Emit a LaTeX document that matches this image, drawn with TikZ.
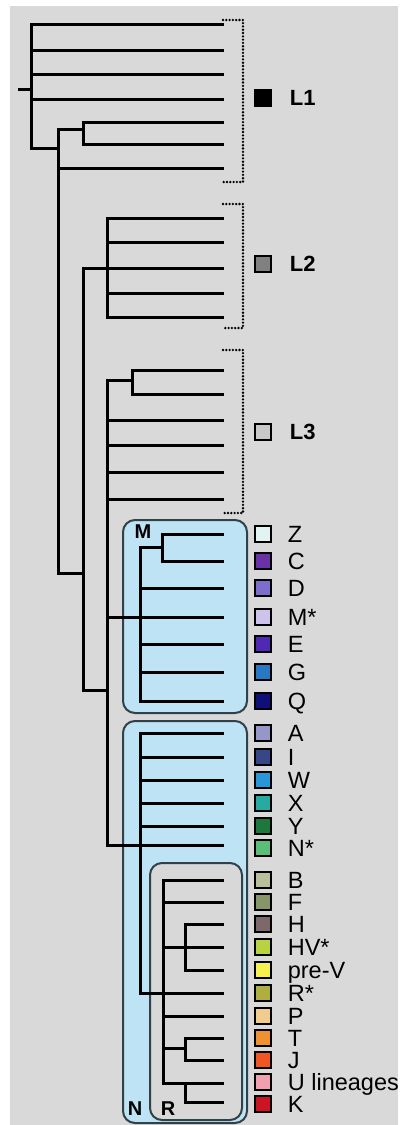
\documentclass[tikz,border=0pt]{standalone}
\usepackage{fontspec}
\setmainfont{Liberation Sans}
\usetikzlibrary{positioning}
\definecolor{hgbg}{RGB}{217,217,217}
\definecolor{hgblue}{RGB}{190,227,244}
\definecolor{hgrbox}{RGB}{216,216,216}
\definecolor{hgedge}{RGB}{50,64,72}
\definecolor{hgL2}{RGB}{128,128,128}
\definecolor{hgL3}{RGB}{200,200,200}
\definecolor{hgZ}{RGB}{226,244,242}
\definecolor{hgC}{RGB}{105,50,165}
\definecolor{hgD}{RGB}{125,110,205}
\definecolor{hgMs}{RGB}{205,195,235}
\definecolor{hgE}{RGB}{80,40,180}
\definecolor{hgG}{RGB}{40,120,195}
\definecolor{hgQ}{RGB}{15,15,120}
\definecolor{hgA}{RGB}{150,150,200}
\definecolor{hgI}{RGB}{55,70,135}
\definecolor{hgW}{RGB}{40,150,215}
\definecolor{hgX}{RGB}{40,170,160}
\definecolor{hgY}{RGB}{30,120,60}
\definecolor{hgNs}{RGB}{90,190,120}
\definecolor{hgB}{RGB}{185,190,155}
\definecolor{hgF}{RGB}{135,150,105}
\definecolor{hgH}{RGB}{125,105,105}
\definecolor{hgHV}{RGB}{185,210,65}
\definecolor{hgpreV}{RGB}{245,240,80}
\definecolor{hgRs}{RGB}{175,175,65}
\definecolor{hgP}{RGB}{240,205,140}
\definecolor{hgT}{RGB}{240,145,50}
\definecolor{hgJ}{RGB}{240,85,35}
\definecolor{hgU}{RGB}{240,160,175}
\definecolor{hgK}{RGB}{205,20,35}
\tikzset{
  hgtree/.style={line width=3pt, draw=black},
  hgdots/.style={line width=2.6pt, draw=black, line cap=round, dash pattern=on 0pt off 3.3pt},
  hgclade/.style={draw=hgedge, line width=2pt, rounded corners=12pt, inner sep=0pt},
  hgcladelbl/.style={font=\fontsize{20}{20}\selectfont\bfseries, inner sep=0pt},
  hgsq/.style={draw=black, line width=1.8pt, minimum size=15.5pt, inner sep=0pt},
  hglbl/.style={font=\fontsize{23.5}{23.5}\selectfont, inner sep=0pt, text height=16.8pt, text depth=0pt},
  hgLlbl/.style={font=\fontsize{22}{22}\selectfont\bfseries, inner sep=0pt, text height=15.8pt, text depth=0pt},
}
\begin{document}
\begin{tikzpicture}[x=1pt, y=-1pt]
  \useasboundingbox (0,0) rectangle (403,1125);
  \fill[hgbg] (10,6) rectangle (398,1125);

  % clade boxes
  \node[hgclade, fill=hgblue, minimum width=124pt, minimum height=193pt] (boxM) at (185,616.5) {};
  \node[hgclade, fill=hgblue, minimum width=124pt, minimum height=402pt] (boxN) at (185,922) {};
  \node[hgclade, fill=hgrbox, minimum width=92pt, minimum height=257pt] (boxR) at (196,991.5) {};
  \node[hgcladelbl] (lblM) at (143,532) {M};
  \node[hgcladelbl] (lblN) at (135,1108.5) {N};
  \node[hgcladelbl] (lblR) at (168,1108.5) {R};

  % inner nodes
  \coordinate (stem) at (18,89);
  \coordinate (root) at (31,89);
  \coordinate (n1) at (58,148);
  \coordinate (c56) at (83,129);
  \coordinate (n2) at (83,573);
  \coordinate (nL2) at (107,268);
  \coordinate (n3) at (107,690);
  \coordinate (nL3) at (132,380);
  \coordinate (nM) at (140,617);
  \coordinate (nZC) at (162,547);
  \coordinate (nN) at (140,845);
  \coordinate (nR) at (163,993);
  \coordinate (nH) at (185,947);
  \coordinate (nTJ) at (185,1048);
  \coordinate (nUK) at (185,1083);

  % leaves
  \coordinate (l1a) at (224,24);
  \coordinate (l1b) at (224,50);
  \coordinate (l1c) at (224,74);
  \coordinate (l1d) at (224,99);
  \coordinate (l1e) at (224,122);
  \coordinate (l1f) at (224,144);
  \coordinate (l1g) at (224,168);
  \coordinate (l2a) at (224,218);
  \coordinate (l2b) at (224,242);
  \coordinate (l2c) at (224,268);
  \coordinate (l2d) at (224,293);
  \coordinate (l2e) at (224,317);
  \coordinate (l3a) at (224,370);
  \coordinate (l3b) at (224,394);
  \coordinate (l3c) at (224,420);
  \coordinate (l3d) at (224,445);
  \coordinate (l3e) at (224,472);
  \coordinate (l3f) at (224,499);
  \coordinate (lZ) at (224,534);
  \coordinate (lC) at (224,561);
  \coordinate (lD) at (224,588);
  \coordinate (lMs) at (224,617);
  \coordinate (lE) at (224,644);
  \coordinate (lG) at (224,672);
  \coordinate (lQ) at (224,701);
  \coordinate (lA) at (224,733);
  \coordinate (lI) at (224,757);
  \coordinate (lW) at (224,780);
  \coordinate (lX) at (224,803);
  \coordinate (lY) at (224,826);
  \coordinate (lNs) at (224,845);
  \coordinate (lB) at (224,880);
  \coordinate (lF) at (224,902);
  \coordinate (lH) at (224,924);
  \coordinate (lHV) at (224,947);
  \coordinate (lpreV) at (224,970);
  \coordinate (lRs) at (224,993);
  \coordinate (lP) at (224,1016);
  \coordinate (lT) at (224,1038);
  \coordinate (lJ) at (224,1060);
  \coordinate (lU) at (224,1083);
  \coordinate (lK) at (224,1102);

  % branches
  \draw[hgtree] (stem) -- (root);
  \draw[hgtree] (l1a) -| (root) (l1b) -| (root) (l1c) -| (root) (l1d) -| (root) (n1) -| (root);
  \draw[hgtree] (c56) -| (n1) (l1g) -| (n1) (n2) -| (n1);
  \draw[hgtree] (l1e) -| (c56) (l1f) -| (c56);
  \draw[hgtree] (nL2) -| (n2) (n3) -| (n2);
  \draw[hgtree] (l2a) -| (nL2) (l2b) -| (nL2) (l2c) -| (nL2) (l2d) -| (nL2) (l2e) -| (nL2);
  \draw[hgtree] (nL3) -| (n3) (l3c) -| (n3) (l3d) -| (n3) (l3e) -| (n3) (l3f) -| (n3)
    (nM) -| (n3) (nN) -| (n3);
  \draw[hgtree] (l3a) -| (nL3) (l3b) -| (nL3);
  \draw[hgtree] (nZC) -| (nM) (lD) -| (nM) (lMs) -| (nM) (lE) -| (nM) (lG) -| (nM) (lQ) -| (nM);
  \draw[hgtree] (lZ) -| (nZC) (lC) -| (nZC);
  \draw[hgtree] (lA) -| (nN) (lI) -| (nN) (lW) -| (nN) (lX) -| (nN) (lY) -| (nN) (lNs) -| (nN)
    (nR) -| (nN);
  \draw[hgtree] (lB) -| (nR) (lF) -| (nR) (nH) -| (nR) (lRs) -| (nR) (lP) -| (nR)
    (nTJ) -| (nR) (nUK) -| (nR);
  \draw[hgtree] (lH) -| (nH) (lHV) -| (nH) (lpreV) -| (nH);
  \draw[hgtree] (lT) -| (nTJ) (lJ) -| (nTJ);
  \draw[hgtree] (lU) -| (nUK) (lK) -| (nUK);

  % L brackets
  \draw[hgdots] (223,20) -- (243,20) -- (243,182) -- (223,182);
  \draw[hgdots] (223,204) -- (243,204) -- (243,328) -- (223,328);
  \draw[hgdots] (223,350) -- (243,350) -- (243,513) -- (223,513);
  \node[hgsq, fill=black] (sqL1) at (263,98) {};
  \node[hgLlbl, right=18pt of sqL1] (txL1) {L1};
  \node[hgsq, fill=hgL2] (sqL2) at (263,264) {};
  \node[hgLlbl, right=18pt of sqL2] (txL2) {L2};
  \node[hgsq, fill=hgL3] (sqL3) at (263,432) {};
  \node[hgLlbl, right=18pt of sqL3] (txL3) {L3};

  % haplogroup legend
  \node[hgsq, fill=hgZ] (sqZ) at ([xshift=39pt]lZ) {};
  \node[hglbl, right=16pt of sqZ] (txZ) {Z};
  \node[hgsq, fill=hgC] (sqC) at ([xshift=39pt]lC) {};
  \node[hglbl, right=16pt of sqC] (txC) {C};
  \node[hgsq, fill=hgD] (sqD) at ([xshift=39pt]lD) {};
  \node[hglbl, right=16pt of sqD] (txD) {D};
  \node[hgsq, fill=hgMs] (sqMs) at ([xshift=39pt]lMs) {};
  \node[hglbl, right=16pt of sqMs] (txMs) {M*};
  \node[hgsq, fill=hgE] (sqE) at ([xshift=39pt]lE) {};
  \node[hglbl, right=16pt of sqE] (txE) {E};
  \node[hgsq, fill=hgG] (sqG) at ([xshift=39pt]lG) {};
  \node[hglbl, right=16pt of sqG] (txG) {G};
  \node[hgsq, fill=hgQ] (sqQ) at ([xshift=39pt]lQ) {};
  \node[hglbl, right=16pt of sqQ] (txQ) {Q};
  \node[hgsq, fill=hgA] (sqA) at ([xshift=39pt]lA) {};
  \node[hglbl, right=16pt of sqA] (txA) {A};
  \node[hgsq, fill=hgI] (sqI) at ([xshift=39pt]lI) {};
  \node[hglbl, right=16pt of sqI] (txI) {I};
  \node[hgsq, fill=hgW] (sqW) at ([xshift=39pt]lW) {};
  \node[hglbl, right=16pt of sqW] (txW) {W};
  \node[hgsq, fill=hgX] (sqX) at ([xshift=39pt]lX) {};
  \node[hglbl, right=16pt of sqX] (txX) {X};
  \node[hgsq, fill=hgY] (sqY) at ([xshift=39pt]lY) {};
  \node[hglbl, right=16pt of sqY] (txY) {Y};
  \node[hgsq, fill=hgNs] (sqNs) at ([xshift=39pt,yshift=-3pt]lNs) {};
  \node[hglbl, right=16pt of sqNs] (txNs) {N*};
  \node[hgsq, fill=hgB] (sqB) at ([xshift=39pt]lB) {};
  \node[hglbl, right=16pt of sqB] (txB) {B};
  \node[hgsq, fill=hgF] (sqF) at ([xshift=39pt]lF) {};
  \node[hglbl, right=16pt of sqF] (txF) {F};
  \node[hgsq, fill=hgH] (sqH) at ([xshift=39pt]lH) {};
  \node[hglbl, right=16pt of sqH] (txH) {H};
  \node[hgsq, fill=hgHV] (sqHV) at ([xshift=39pt]lHV) {};
  \node[hglbl, right=16pt of sqHV] (txHV) {HV*};
  \node[hgsq, fill=hgpreV] (sqpreV) at ([xshift=39pt]lpreV) {};
  \node[hglbl, right=16pt of sqpreV] (txpreV) {pre-V};
  \node[hgsq, fill=hgRs] (sqRs) at ([xshift=39pt]lRs) {};
  \node[hglbl, right=16pt of sqRs] (txRs) {R*};
  \node[hgsq, fill=hgP] (sqP) at ([xshift=39pt]lP) {};
  \node[hglbl, right=16pt of sqP] (txP) {P};
  \node[hgsq, fill=hgT] (sqT) at ([xshift=39pt]lT) {};
  \node[hglbl, right=16pt of sqT] (txT) {T};
  \node[hgsq, fill=hgJ] (sqJ) at ([xshift=39pt]lJ) {};
  \node[hglbl, right=16pt of sqJ] (txJ) {J};
  \node[hgsq, fill=hgU] (sqU) at ([xshift=39pt,yshift=1pt]lU) {};
  \node[hglbl, right=16pt of sqU] (txU) {U lineages};
  \node[hgsq, fill=hgK] (sqK) at ([xshift=39pt,yshift=-2pt]lK) {};
  \node[hglbl, right=16pt of sqK] (txK) {K};
\end{tikzpicture}
\end{document}
